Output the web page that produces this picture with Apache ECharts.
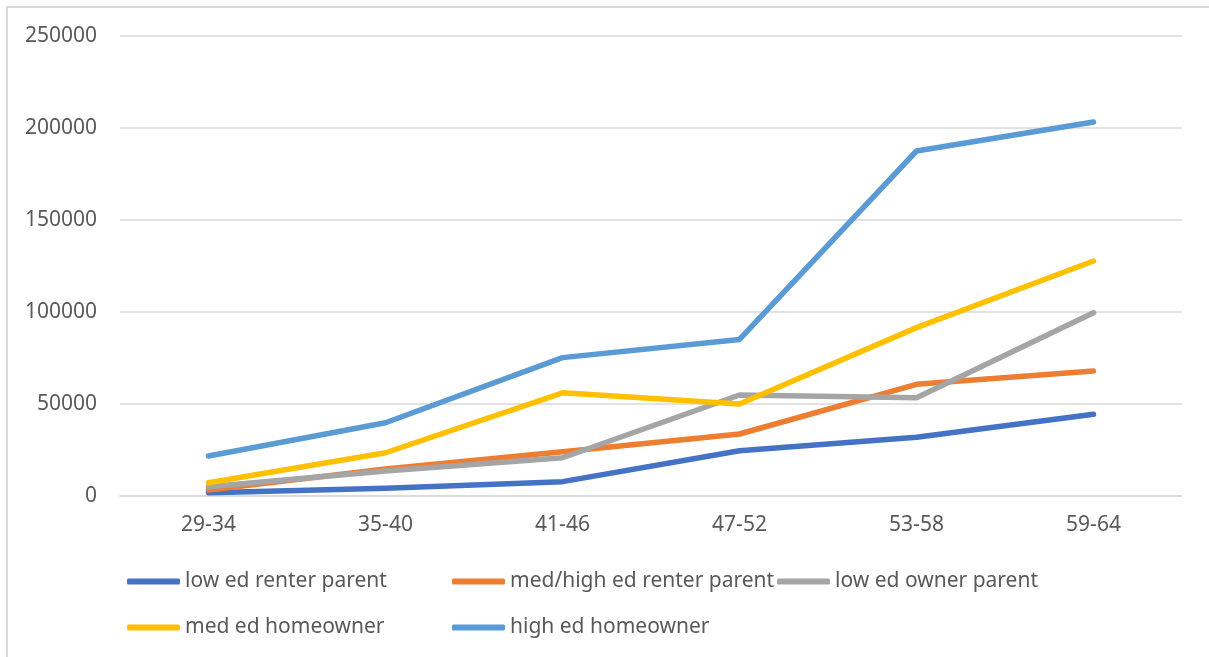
<!DOCTYPE html>
<html>
<head>
<meta charset="utf-8">
<script src="https://cdn.jsdelivr.net/npm/echarts@6/dist/echarts.min.js"></script>
<style>
html,body{margin:0;padding:0;background:#fff;}
#chart{width:1209px;height:657px;}
</style>
</head>
<body>
<div id="chart"></div>
<script>
const categories = ['29-34', '35-40', '41-46', '47-52', '53-58', '59-64'];
const lowEdRenterParent = [1800, 4200, 7800, 24600, 31900, 44400];
const medHighEdRenterParent = [3300, 14700, 24100, 33700, 60700, 67900];
const lowEdOwnerParent = [5000, 13600, 20800, 54900, 53400, 99600];
const medEdHomeowner = [7200, 23500, 56100, 50000, 91500, 127700];
const highEdHomeowner = [21700, 39800, 75200, 85100, 187500, 203300];
const seriesNames = ['low ed renter parent', 'med/high ed renter parent', 'low ed owner parent', 'med ed homeowner', 'high ed homeowner'];
const yTicks = [0, 50000, 100000, 150000, 200000, 250000];

const colors = ['#4472C4', '#ED7D31', '#A5A5A5', '#FFC000', '#5B9BD5'];
const seriesData = [lowEdRenterParent, medHighEdRenterParent, lowEdOwnerParent, medEdHomeowner, highEdHomeowner];
const font = '"Noto Sans", "Open Sans", sans-serif';
const textColor = '#595959';

const legendPos = [
  {left: 127, top: 571},
  {left: 452, top: 571},
  {left: 777, top: 571},
  {left: 127, top: 617},
  {left: 452, top: 617}
];

const chart = echarts.init(document.getElementById('chart'), null, {renderer: 'canvas'});
chart.setOption({
  animation: false,
  backgroundColor: '#fff',
  color: colors,
  graphic: [{
    type: 'rect',
    shape: {x: 7, y: 7, width: 1300, height: 700},
    style: {fill: 'none', stroke: '#d9d9d9', lineWidth: 2},
    silent: true
  }],
  grid: {left: 120, right: 27, top: 36, bottom: 161, containLabel: false},
  legend: seriesNames.map((n, i) => ({
    data: [{name: n, icon: 'roundRect'}],
    left: legendPos[i].left,
    top: legendPos[i].top,
    padding: 0,
    itemWidth: 53,
    itemHeight: 6,
    selectedMode: false,
    textStyle: {fontFamily: font, fontSize: 21, color: textColor}
  })),
  xAxis: {
    type: 'category',
    data: categories,
    boundaryGap: true,
    axisLine: {show: true, lineStyle: {color: '#d9d9d9', width: 1.5}},
    axisTick: {show: false},
    axisLabel: {fontFamily: font, fontSize: 21, color: textColor, margin: 19}
  },
  yAxis: {
    type: 'value',
    min: yTicks[0],
    max: yTicks[yTicks.length - 1],
    interval: yTicks[1] - yTicks[0],
    axisLine: {show: false},
    axisTick: {show: false},
    splitLine: {lineStyle: {color: '#d9d9d9', width: 1.5}},
    axisLabel: {fontFamily: font, fontSize: 21, color: textColor, margin: 23, formatter: v => String(v)}
  },
  series: seriesNames.map((n, i) => ({
    name: n,
    type: 'line',
    data: seriesData[i],
    showSymbol: false,
    symbol: 'none',
    lineStyle: {width: 5.5, color: colors[i], cap: 'round', join: 'round'},
    itemStyle: {color: colors[i]}
  }))
});
</script>
</body>
</html>
